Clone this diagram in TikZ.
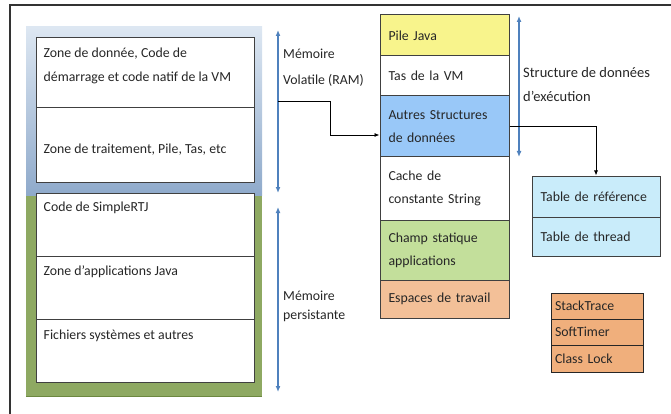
\documentclass[tikz,border=0pt]{standalone}
\usepackage{fontspec}
\setmainfont{Carlito}
\usetikzlibrary{positioning,arrows.meta}

\definecolor{panelblue}{HTML}{8FAACB}
\definecolor{panelbluelight}{HTML}{DDE7F2}
\definecolor{panelgreen}{HTML}{8EA962}
\definecolor{panelgreendark}{HTML}{6C8840}
\definecolor{arrowblue}{HTML}{4F81BD}
\definecolor{pilejava}{HTML}{F8F48C}
\definecolor{autresblue}{HTML}{99C8F8}
\definecolor{champgreen}{HTML}{C3DF9B}
\definecolor{espacesorange}{HTML}{F3C098}
\definecolor{tableblue}{HTML}{C9ECFA}
\definecolor{lockorange}{HTML}{F0AF7C}

\begin{document}
\begin{tikzpicture}[x=1pt,y=-1pt,
    every node/.style={font=\fontsize{13.8}{23}\selectfont, text=black!85},
    cell/.style={draw=black!75, line width=1pt, fill=white, minimum width=#1, inner sep=0pt},
    row/.style={draw=black!75, line width=1pt, minimum width=129pt, text width=112pt,
        inner xsep=8.5pt, inner ysep=0pt, align=left},
    smallrow/.style={draw=black!85, line width=1pt, fill=lockorange, minimum width=92pt,
        minimum height=26pt, text width=84pt, inner xsep=4pt, inner ysep=0pt, align=left},
    txt/.style={anchor=west, align=left, inner sep=0pt},
    memarrow/.style={arrowblue, line width=1.4pt, {Latex[length=6pt,width=5pt]}-{Latex[length=6pt,width=5pt]}},
    conn/.style={black, line width=0.8pt, -{Latex[length=5pt,width=4pt]}}]
    \useasboundingbox (0,0) rectangle (671,414);

    % Outer frame
    \draw[black!80, line width=1.1pt] (671,5) -- (10,5) -- (10,414);

    % Memory panels
    \shade[top color=panelbluelight, bottom color=panelblue] (26,27) rectangle (262,195);
    \fill[panelgreen] (26,196) rectangle (262,397);
    \draw[panelgreendark, line width=1.5pt] (26,396.5) -- (262,396.5);

    % Volatile memory
    \node[cell=218pt, minimum height=70pt] (zdonnee) at (145,73) {};
    \node[cell=218pt, minimum height=74pt] (ztrait) at (145,145) {};
    \node[txt, font=\fontsize{13.8}{24}\selectfont] (zdonneetxt) at ([xshift=8pt,yshift=-28pt]zdonnee.north west)
        {Zone de donnée, Code de\\démarrage et code natif de la VM};
    \node[txt] (ztraittxt) at ([xshift=8pt,yshift=-42pt]ztrait.north west)
        {Zone de traitement, Pile, Tas, etc};

    % Persistent memory
    \node[cell=218pt, minimum height=63pt] (simplertj) at (145,224.5) {};
    \node[cell=218pt, minimum height=63pt] (zappli) at (145,287.5) {};
    \node[cell=218pt, minimum height=63pt] (fichiers) at (145,350.5) {};
    \node[txt] (simplertjtxt) at ([xshift=8pt,yshift=-15pt]simplertj.north west) {Code de SimpleRTJ};
    \node[txt] (zapplitxt) at ([xshift=8pt,yshift=-16pt]zappli.north west) {Zone d’applications Java};
    \node[txt] (fichierstxt) at ([xshift=8pt,yshift=-17pt]fichiers.north west) {Fichiers systèmes et autres};

    % Blue measure arrows
    \coordinate (ramtop) at (278,30);
    \coordinate (rambot) at (278,193);
    \coordinate (ramfork) at (278,101);
    \coordinate (pertop) at (278,207);
    \coordinate (perbot) at (278,392);
    \draw[memarrow] (ramtop) -- (rambot);
    \draw[memarrow] (pertop) -- (perbot);
    \node[txt, font=\fontsize{13.8}{26}\selectfont] (ramlbl) at (283,67.5) {Mémoire\\Volatile (RAM)};
    \node[txt, font=\fontsize{13.8}{19}\selectfont] (perlbl) at (283,306.5) {Mémoire\\persistante};

    % Execution data structures
    \node[row, fill=pilejava, minimum height=41pt] (pile) at (444.5,35.5) {Pile Java};
    \node[row, fill=white, minimum height=40pt] (tas) at (444.5,76) {Tas de la VM};
    \node[row, fill=autresblue, minimum height=61pt] (autres) at (444.5,126.5) {Autres Structures\\de données};
    \node[row, fill=white, minimum height=63pt] (cache) at (444.5,188.5) {Cache de\\constante String};
    \node[row, fill=champgreen, minimum height=60pt] (champ) at (444.5,250) {Champ statique\\applications};
    \node[row, fill=espacesorange, minimum height=38pt] (espaces) at (444.5,299) {Espaces de travail};

    \coordinate (exetop) at (519,16);
    \coordinate (exebot) at (519,157);
    \draw[memarrow] (exetop) -- (exebot);
    \node[txt, font=\fontsize{14.5}{24}\selectfont] (exelbl) at (523,85) {Structure de données\\d’exécution};

    % Tables
    \node[row, fill=tableblue, minimum width=128pt, text width=111pt, minimum height=41pt] (reftab) at (596,196.5) {Table de référence};
    \node[row, fill=tableblue, minimum width=128pt, text width=111pt, minimum height=39pt] (threadtab) at (596,236.5) {Table de thread};

    \node[smallrow] (stacktrace) at (597,306) {StackTrace};
    \node[smallrow] (softtimer) at (597,332) {SoftTimer};
    \node[smallrow, minimum height=27pt] (classlock) at (597,358.5) {Class Lock};

    % Connectors
    \draw[conn] (ramfork) -- ++(52,0) |- ([yshift=-8.5pt]autres.west);
    \draw[conn] (autres.east) -| (reftab.north);
\end{tikzpicture}
\end{document}
